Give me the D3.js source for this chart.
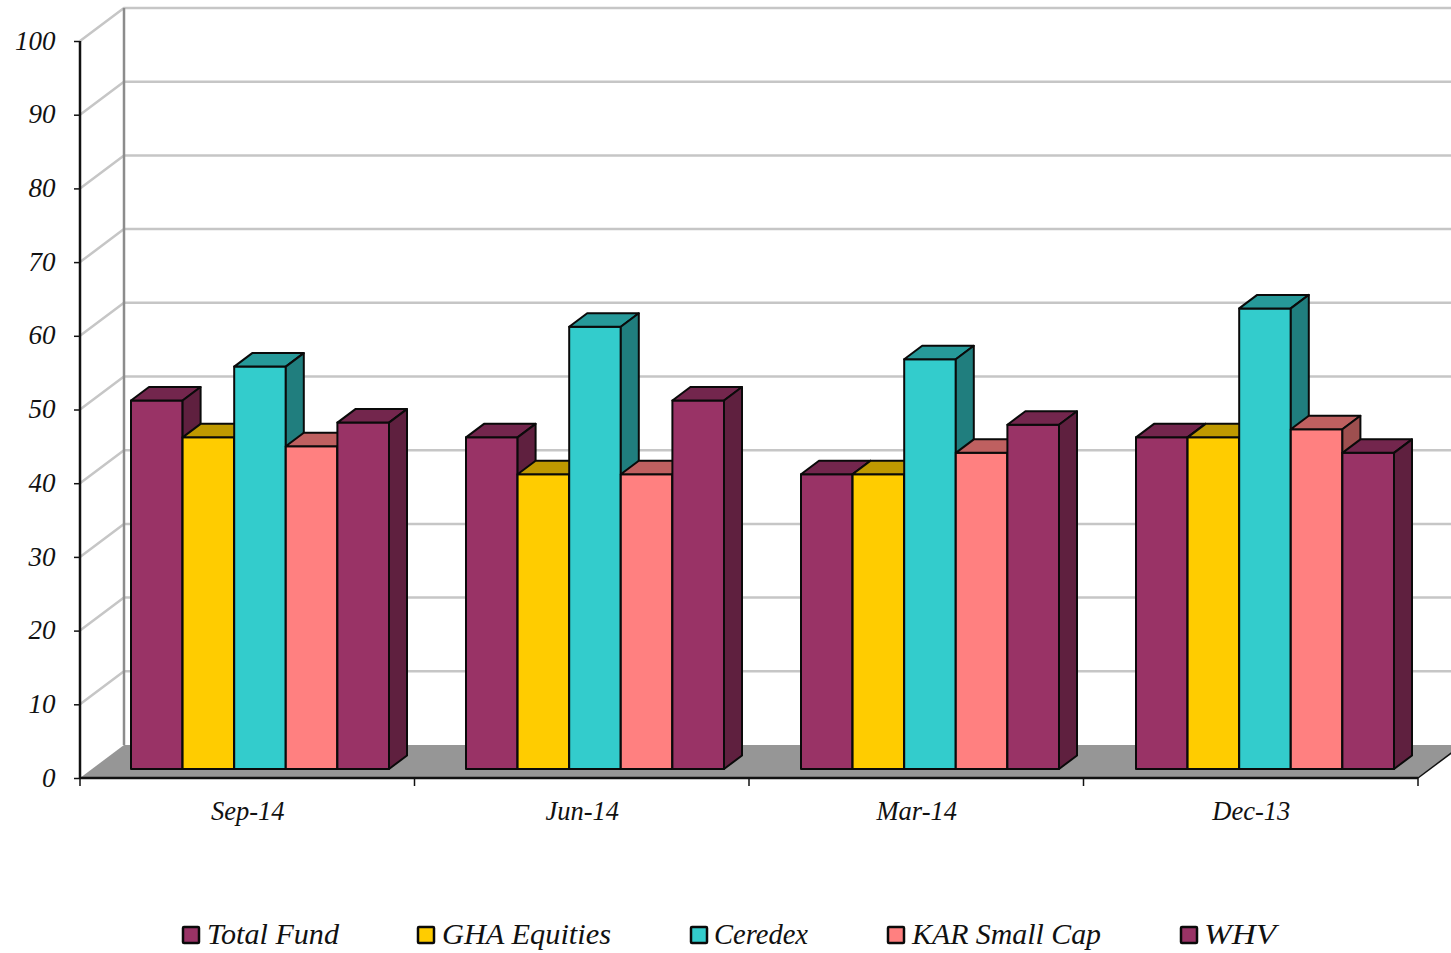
<!DOCTYPE html>
<html><head><meta charset="utf-8">
<script src="https://cdn.jsdelivr.net/npm/d3@7"></script>
<style>html,body{margin:0;padding:0;background:#fff;overflow:hidden}svg{display:block}
text{font-family:"Liberation Serif",serif;font-style:italic;fill:#111}</style>
</head><body><div id="c"></div>
<script>
const categories = ["Sep-14","Jun-14","Mar-14","Dec-13"];
const seriesNames = ["Total Fund","GHA Equities","Ceredex","KAR Small Cap","WHV"];
const totalFund = [50,45,40,45];
const ghaEquities = [45,40,40,45];
const ceredex = [54.6,60,55.6,62.5];
const karSmallCap = [43.8,40,42.9,46.1];
const whv = [47,50,46.7,42.9];
const seriesValues = [totalFund,ghaEquities,ceredex,karSmallCap,whv];
const colors = ["#993366","#ffcc00","#33cccc","#ff8080","#993366"];
const yTicks = [0,10,20,30,40,50,60,70,80,90,100];

const W=1451,H=953;
const svg=d3.select("#c").append("svg").attr("width",W).attr("height",H);
const y=d3.scaleLinear().domain([0,100]).range([778,41]);
const x0=d3.scaleBand().domain(categories).range([80,1418]);
const barGroups=d3.scaleBand().domain(categories).range([131,131+4*335]);
const x1=d3.scaleBand().domain(seriesNames).range([0,258]);
const wallDx=44,wallDy=-33,barDx=18,barDy=-13.5,barLift=-9;

const grid=svg.append("g").attr("stroke","#c6c6c6").attr("stroke-width",2.5).attr("fill","none");
yTicks.filter(d=>d>0).forEach(t=>{
  grid.append("path").attr("d",`M${x0.range()[0]},${y(t)}L${x0.range()[0]+wallDx},${y(t)+wallDy}L${x0.range()[1]+wallDx},${y(t)+wallDy}`);
});
svg.append("line").attr("x1",80+wallDx).attr("x2",80+wallDx).attr("y1",y(0)+wallDy).attr("y2",y(100)+wallDy)
  .attr("stroke","#8c8c8c").attr("stroke-width",2.5);
svg.append("path").attr("fill","#969696")
  .attr("d",`M80,${y(0)}L${80+wallDx},${y(0)+wallDy}L${1418+wallDx},${y(0)+wallDy}L1418,${y(0)}Z`);
svg.append("path").attr("fill","none").attr("stroke","#111").attr("stroke-width",1.5)
  .attr("d",`M1418,${y(0)}L${1418+wallDx},${y(0)+wallDy}`);

const tone=(c,k)=>{const r=d3.rgb(c);return d3.rgb(r.r*k,r.g*k,r.b*k).formatHex();};
const bars=svg.append("g").attr("stroke","#0a0a0a").attr("stroke-width",2).attr("stroke-linejoin","round");
categories.forEach((cat,ci)=>{
  seriesNames.forEach((s,si)=>{
    const v=seriesValues[si][ci], c=colors[si];
    const l=barGroups(cat)+x1(s), r=l+x1.bandwidth(), t=y(v)+barLift, b=y(0)+barLift;
    bars.append("path").attr("fill",c).attr("d",`M${l},${b}L${r},${b}L${r},${t}L${l},${t}Z`);
    bars.append("path").attr("fill",tone(c,.75))
      .attr("d",`M${l},${t}L${l+barDx},${t+barDy}L${r+barDx},${t+barDy}L${r},${t}Z`);
    bars.append("path").attr("fill",tone(c,.62))
      .attr("d",`M${r},${t}L${r+barDx},${t+barDy}L${r+barDx},${b+barDy}L${r},${b}Z`);
  });
});

const axisY=d3.axisLeft(y).tickValues(yTicks).tickSize(6).tickPadding(18).tickFormat(d3.format("d"));
const gy=svg.append("g").attr("transform","translate(80,0)").call(axisY);
gy.select(".domain").attr("stroke","#111").attr("stroke-width",2.5).attr("d",`M0,${y(100)}V${y(0)}`);
gy.selectAll("line").attr("stroke","#111").attr("stroke-width",1.5);
gy.selectAll("text").attr("font-size",27).attr("fill","#111").attr("font-family",null).attr("dy","0.30em").attr("x",-24.5);

const gx=svg.append("g").attr("transform",`translate(0,${y(0)})`);
gx.append("line").attr("x1",80).attr("x2",1418).attr("stroke","#111").attr("stroke-width",2.5);
d3.range(categories.length+1).forEach(i=>{
  const px=i<categories.length?x0(categories[i]):x0.range()[1];
  gx.append("line").attr("x1",px).attr("x2",px).attr("y1",0).attr("y2",8).attr("stroke","#111").attr("stroke-width",1.5);
});
categories.forEach(cat=>{
  gx.append("text").attr("x",x0(cat)+x0.bandwidth()/2+0.5).attr("y",42).attr("text-anchor","middle").attr("font-size",26.5).text(cat);
});

const legendX=[183,418,691,888,1181];
const legendTextX=[207,442,714,912,1204];
const legendTextLen=[132,169,94,189,72];
const lg=svg.append("g");
seriesNames.forEach((s,i)=>{
  lg.append("rect").attr("x",legendX[i]).attr("y",927).attr("width",16).attr("height",16)
    .attr("fill",colors[i]).attr("stroke","#0a0a0a").attr("stroke-width",2.5).attr("rx",1);
  lg.append("text").attr("x",legendTextX[i]).attr("y",944).attr("font-size",30)
    .attr("textLength",legendTextLen[i]).attr("lengthAdjust","spacingAndGlyphs").text(s);
});
</script></body></html>
